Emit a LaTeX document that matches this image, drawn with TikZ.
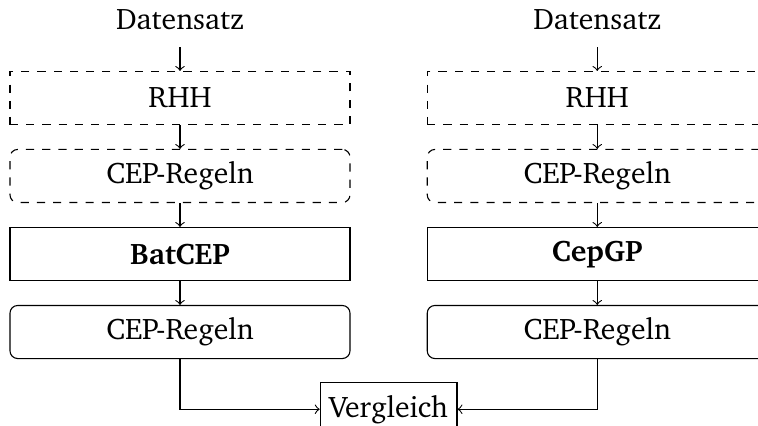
\documentclass[tikz,border=0pt]{standalone}
\usepackage[T1]{fontenc}
\usepackage{charter}
\usepackage{tikz}
\usetikzlibrary{
  positioning,
  calc
}
\tikzset{
  stageBox/.style={
    rectangle,
    draw,
    minimum width=4.42cm,
    minimum height=0.69cm,
    align=center
  },
  stageDashed/.style={
    stageBox,
    dashed
  },
  stageRound/.style={
    stageBox,
    rounded corners=1mm
  },
  stageLabel/.style={
    stageBox,
    draw=none
  },
  stageArrow/.style={
    ->
  }
}

\begin{document}
\begin{tikzpicture}[node distance=0.31cm,
    font=\fontsize{11pt}{13.2pt}\selectfont]
  \useasboundingbox (-2.34,-4.264) rectangle (7.514,1.274);

  % left column
  \node[stageDashed] (rhhA) at (0,0) {RHH};
  \node[stageLabel, above=of rhhA] (dataA) {Datensatz};
  \node[stageDashed, rounded corners=1mm, below=of rhhA]
    (rulesA) {CEP-Regeln};
  \node[stageBox, below=of rulesA]
    (batcep) {\textbf{BatCEP}};
  \node[stageRound, below=of batcep]
    (outA) {CEP-Regeln};

  % right column
  \node[stageDashed, right=0.99cm of rhhA] (rhhB) {RHH};
  \node[stageLabel, above=of rhhB] (dataB) {Datensatz};
  \node[stageDashed, rounded corners=1mm, below=of rhhB]
    (rulesB) {CEP-Regeln};
  \node[stageBox, below=of rulesB]
    (cepgp) {\textbf{CepGP}};
  \node[stageRound, below=of cepgp]
    (outB) {CEP-Regeln};

  \coordinate (mid) at ($(outA.south)!0.5!(outB.south)$);
  \node[draw, minimum height=0.69cm, below=0.3cm of mid]
    (cmp) {Vergleich};

  \draw[stageArrow] (dataA) -- (rhhA);
  \draw[stageArrow] (rhhA) -- (rulesA);
  \draw[stageArrow] (rulesA) -- (batcep);
  \draw[stageArrow] (batcep) -- (outA);

  \draw[stageArrow] (dataB) -- (rhhB);
  \draw[stageArrow] (rhhB) -- (rulesB);
  \draw[stageArrow] (rulesB) -- (cepgp);
  \draw[stageArrow] (cepgp) -- (outB);

  \draw[stageArrow] (outA.south) |- (cmp.west);
  \draw[stageArrow] (outB.south) |- (cmp.east);
\end{tikzpicture}
\end{document}
